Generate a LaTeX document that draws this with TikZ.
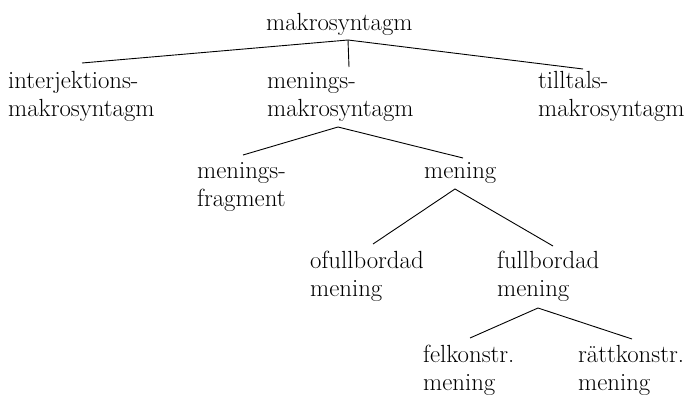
\documentclass[tikz,border=0pt]{standalone}
\newcommand{\tw}[2]{\begin{tabular}[t]{@{}l@{}}#1\\#2\end{tabular}}
\begin{document}
\begin{tikzpicture}[x=1pt,y=-1pt,
  lbl/.style={anchor=base west,inner sep=0pt,font=\rmfamily\fontsize{24.8}{28.5}\selectfont},
  edge/.style={line width=0.9pt}]
\useasboundingbox (0,0) rectangle (690,394);
\node[lbl] (root) at (266,30) {makrosyntagm};
\node[lbl] (interj) at (8,88) {\tw{interjektions-}{makrosyntagm}};
\node[lbl] (menmak) at (267,88) {\tw{menings-}{makrosyntagm}};
\node[lbl] (tilltal) at (538,88) {\tw{tilltals-}{makrosyntagm}};
\node[lbl] (menfrag) at (197,178) {\tw{menings-}{fragment}};
\node[lbl] (mening) at (424,178) {mening};
\node[lbl] (ofull) at (310,268) {\tw{ofullbordad}{mening}};
\node[lbl] (full) at (497,268) {\tw{fullbordad}{mening}};
\node[lbl] (fel) at (423,362) {\tw{felkonstr.}{mening}};
\node[lbl] (ratt) at (578,362) {\tw{rättkonstr.}{mening}};
% connector points
\coordinate (rootA) at (348,40);
\coordinate (interjT) at (82,63);
\coordinate (menmakT) at (349,67);
\coordinate (tilltalT) at (583,69);
\coordinate (menmakA) at (338,127);
\coordinate (menfragT) at (243,155);
\coordinate (meningT) at (463,158);
\coordinate (meningA) at (455,189);
\coordinate (ofullT) at (373,244);
\coordinate (fullT) at (553,246);
\coordinate (fullA) at (538,308);
\coordinate (felT) at (470,338);
\coordinate (rattT) at (632,339);
\draw[edge] (interjT) -- (rootA) -- (tilltalT);
\draw[edge] (rootA) -- (menmakT);
\draw[edge] (menfragT) -- (menmakA) -- (meningT);
\draw[edge] (ofullT) -- (meningA) -- (fullT);
\draw[edge] (felT) -- (fullA) -- (rattT);
\end{tikzpicture}
\end{document}
